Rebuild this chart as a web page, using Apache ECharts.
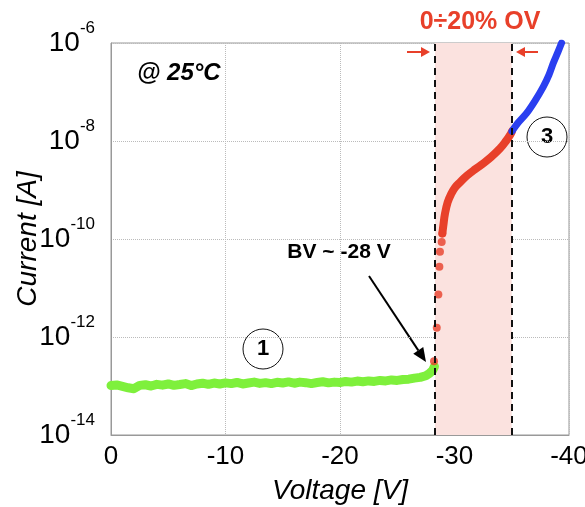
<!DOCTYPE html>
<html>
<head>
<meta charset="utf-8">
<script src="https://cdn.jsdelivr.net/npm/echarts@6/dist/echarts.min.js"></script>
<style>
  html, body { margin: 0; padding: 0; background: #fff; }
  #chart { width: 585px; height: 507px; }
</style>
</head>
<body>
<div id="chart"></div>
<script>
// region 1: leakage before breakdown [V, A]
var greenPts = [
  [0, 1.02e-13], [-0.5, 1.05e-13], [-1, 0.98e-13], [-1.5, 0.92e-13], [-2, 0.88e-13],
  [-2.5, 1.03e-13], [-3, 1.06e-13], [-3.5, 1.0e-13], [-4, 1.08e-13], [-4.5, 1.04e-13],
  [-5, 1.1e-13], [-5.5, 1.03e-13], [-6, 1.07e-13], [-6.5, 1.12e-13], [-7, 1.02e-13],
  [-7.5, 1.1e-13], [-8, 1.14e-13], [-8.5, 1.08e-13], [-9, 1.15e-13], [-9.5, 1.1e-13],
  [-10, 1.16e-13], [-10.5, 1.12e-13], [-11, 1.18e-13], [-11.5, 1.1e-13], [-12, 1.15e-13],
  [-12.5, 1.2e-13], [-13, 1.13e-13], [-13.5, 1.17e-13], [-14, 1.12e-13], [-14.5, 1.19e-13],
  [-15, 1.15e-13], [-15.5, 1.21e-13], [-16, 1.14e-13], [-16.5, 1.2e-13], [-17, 1.17e-13],
  [-17.5, 1.12e-13], [-18, 1.18e-13], [-18.5, 1.22e-13], [-19, 1.16e-13], [-19.5, 1.2e-13],
  [-20, 1.18e-13], [-20.5, 1.24e-13], [-21, 1.2e-13], [-21.5, 1.26e-13], [-22, 1.22e-13],
  [-22.5, 1.27e-13], [-23, 1.24e-13], [-23.5, 1.3e-13], [-24, 1.27e-13], [-24.5, 1.33e-13],
  [-25, 1.3e-13], [-25.5, 1.36e-13], [-26, 1.38e-13], [-26.5, 1.45e-13], [-27, 1.5e-13],
  [-27.5, 1.62e-13], [-27.8, 1.8e-13], [-28.1, 2.1e-13], [-28.25, 2.5e-13]
];
// sparse points right after breakdown
var redDots = [
  [-28.21, 3.2e-13], [-28.45, 1.55e-12], [-28.59, 7.4e-12], [-28.68, 2.7e-11],
  [-28.73, 5.5e-11], [-28.88, 8.7e-11], [-28.94, 1.3e-10]
];
// region 2: 0-20% overvoltage
var redPts = [
  [-28.94, 1.3e-10], [-29.02, 1.85e-10], [-29.17, 3.3e-10], [-29.4, 5.6e-10], [-29.7, 8.2e-10],
  [-30.04, 1.12e-9], [-30.5, 1.45e-9], [-31.07, 1.95e-9], [-31.8, 2.65e-9], [-32.52, 3.5e-9],
  [-33.2, 4.7e-9], [-33.97, 7.0e-9], [-34.5, 1.0e-8], [-34.85, 1.32e-8], [-35.02, 1.58e-8]
];
// region 3: above 20% OV
var bluePts = [
  [-35.02, 1.58e-8], [-35.55, 2.35e-8], [-36.3, 3.7e-8], [-37.03, 6.6e-8], [-37.76, 1.29e-7],
  [-38.25, 2.24e-7], [-38.63, 3.9e-7], [-39.04, 6.6e-7], [-39.35, 1.0e-6]
];
var bvStart = -28.3, ovEnd = -35;
var xTicks = { min: -40, max: 0, step: 10 };

var FONT = '"Liberation Sans", Arial, Helvetica, sans-serif';

function arrow(x1, y1, x2, y2, color, headLen, headW, width) {
  var dx = x2 - x1, dy = y2 - y1, len = Math.sqrt(dx * dx + dy * dy);
  var ux = dx / len, uy = dy / len, nx = -uy, ny = ux;
  var bx = x2 - ux * headLen, by = y2 - uy * headLen;
  return {
    type: 'group',
    children: [
      { type: 'line', shape: { x1: x1, y1: y1, x2: bx, y2: by }, style: { stroke: color, lineWidth: width } },
      { type: 'polygon', shape: { points: [[x2, y2], [bx + nx * headW, by + ny * headW], [bx - nx * headW, by - ny * headW]] },
        style: { fill: color } }
    ]
  };
}

function circled(cx, cy, label) {
  return {
    type: 'group',
    children: [
      { type: 'circle', shape: { cx: cx, cy: cy, r: 20 }, style: { fill: 'rgba(255,255,255,0)', stroke: '#111', lineWidth: 1 } },
      { type: 'text', x: cx, y: cy, style: { text: label, font: 'bold 22px ' + FONT, fill: '#000', align: 'center', verticalAlign: 'middle' } }
    ]
  };
}

var chart = echarts.init(document.getElementById('chart'));
var option = {
  animation: false,
  grid: { left: 111, right: 16, top: 43, bottom: 72, outerBoundsMode: 'none', containLabel: false,
    show: true, borderColor: '#999', borderWidth: 1 },
  xAxis: {
    type: 'value',
    inverse: true,
    min: xTicks.min, max: xTicks.max, interval: xTicks.step,
    name: 'Voltage [V]',
    nameLocation: 'middle',
    nameGap: 42,
    nameMoveOverlap: false,
    nameTextStyle: { fontFamily: FONT, fontSize: 28, fontStyle: 'italic', color: '#000' },
    axisLine: { lineStyle: { color: '#999' } },
    axisTick: { show: false },
    axisLabel: { fontFamily: FONT, fontSize: 26, color: '#000', margin: 9 },
    splitLine: { show: true, lineStyle: { color: '#bbb', type: 'dotted' } }
  },
  yAxis: {
    type: 'log',
    logBase: 10,
    min: 1e-14, max: 1e-6, interval: 2,
    name: 'Current [A]',
    nameLocation: 'middle',
    nameGap: 69,
    nameMoveOverlap: false,
    nameTextStyle: { fontFamily: FONT, fontSize: 28, fontStyle: 'italic', color: '#000' },
    axisLine: { show: true, lineStyle: { color: '#999' } },
    axisTick: { show: false },
    axisLabel: {
      margin: 16,
      formatter: function (v) {
        return '{b|10}{e|' + Math.round(Math.log10(v)) + '}';
      },
      rich: {
        b: { fontFamily: FONT, fontSize: 28, color: '#000' },
        e: { fontFamily: FONT, fontSize: 17, color: '#000', padding: [0, 0, 30, 0] }
      }
    },
    splitLine: { show: true, lineStyle: { color: '#bbb', type: 'dotted' } }
  },
  series: [
    {
      name: 'bounds',
      type: 'line',
      data: [],
      z: 1,
      markArea: {
        silent: true,
        itemStyle: { color: '#fbe2df' },
        data: [[{ xAxis: bvStart }, { xAxis: ovEnd }]]
      },
      markLine: {
        silent: true,
        symbol: ['none', 'none'],
        label: { show: false },
        lineStyle: { color: '#111', type: [7, 5], width: 2 },
        data: [{ xAxis: bvStart }, { xAxis: ovEnd }]
      }
    },
    {
      name: 'region1',
      type: 'line',
      z: 3,
      data: greenPts,
      showSymbol: false,
      lineStyle: { color: '#7ef03c', width: 9, cap: 'round', join: 'round' }
    },
    {
      name: 'dots',
      type: 'scatter',
      z: 4,
      data: redDots,
      symbolSize: 8,
      itemStyle: { color: '#e8402a' }
    },
    {
      name: 'region2',
      type: 'line',
      z: 4,
      data: redPts,
      smooth: 0.4,
      showSymbol: false,
      lineStyle: { color: '#e8402a', width: 8, cap: 'round', join: 'round' }
    },
    {
      name: 'region3',
      type: 'line',
      z: 4,
      data: bluePts,
      smooth: 0.3,
      showSymbol: false,
      lineStyle: { color: '#2a3ff0', width: 7, cap: 'round', join: 'round' }
    }
  ],
  graphic: [
    { type: 'text', x: 137, y: 73, style: { text: '@ 25\u00b0C', font: 'italic bold 24px ' + FONT, fill: '#000', verticalAlign: 'middle' } },
    { type: 'text', x: 480, y: 22, style: { text: '0\u00f720% OV', font: 'bold 25px ' + FONT, fill: '#e8402a', align: 'center', verticalAlign: 'middle' } },
    { type: 'text', x: 339, y: 252, style: { text: 'BV ~ -28 V', font: 'bold 21px ' + FONT, fill: '#000', align: 'center', verticalAlign: 'middle' } },
    arrow(407, 52, 430, 52, '#e8402a', 9, 5, 2),
    arrow(538, 52, 516, 52, '#e8402a', 9, 5, 2),
    arrow(369, 276, 426, 362, '#000', 14, 6, 2),
    circled(263, 349, '1'),
    circled(477, 217, '2'),
    circled(547, 137, '3')
  ]
};
chart.setOption(option);
</script>
</body>
</html>
